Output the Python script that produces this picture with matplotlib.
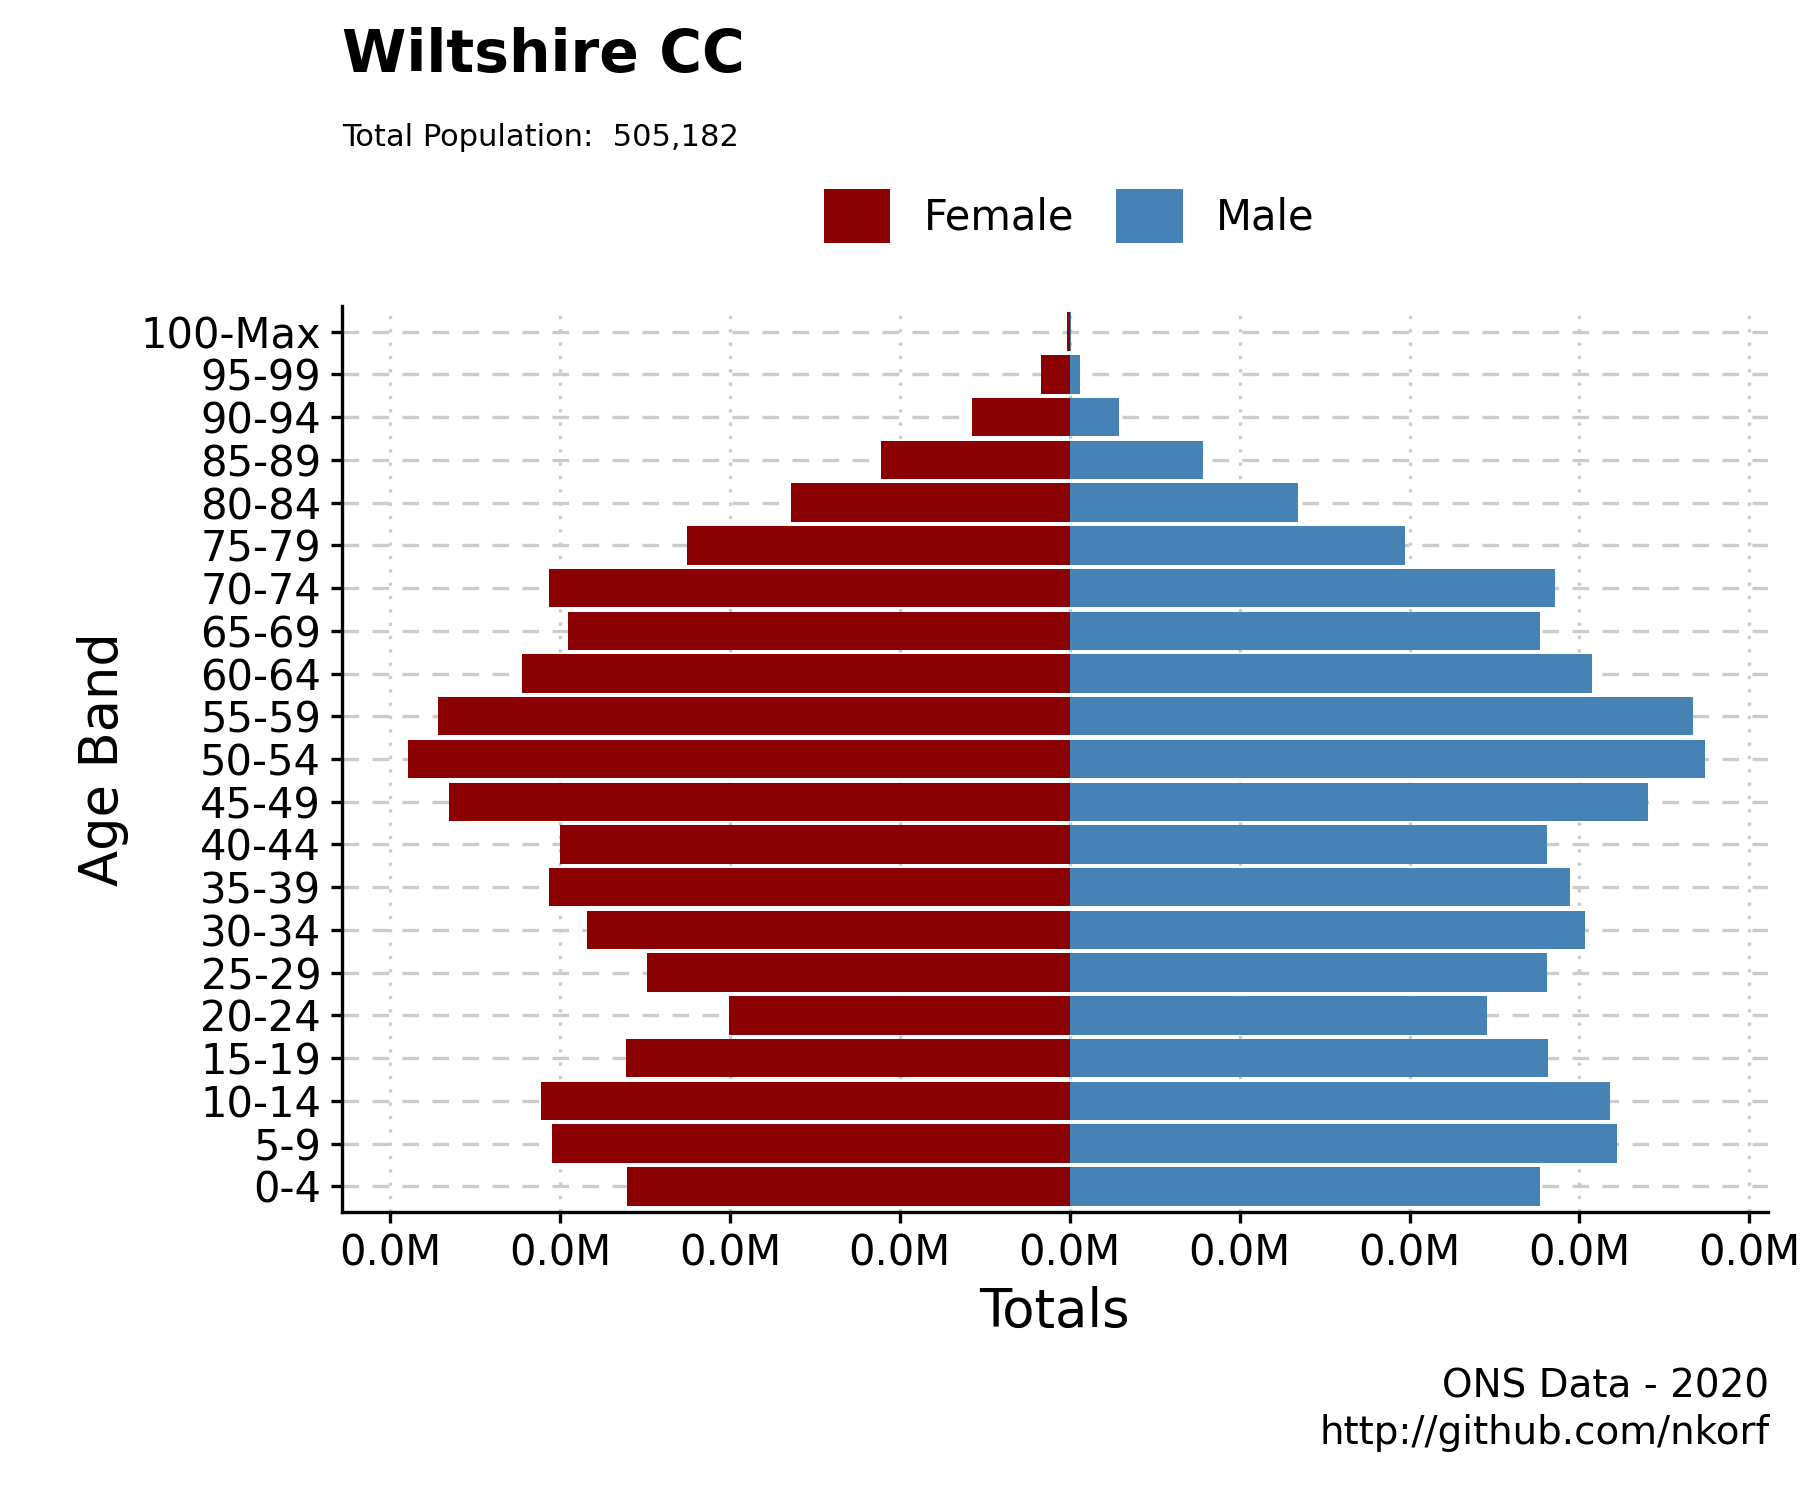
import matplotlib
matplotlib.use("Agg")
import matplotlib.pyplot as plt
import numpy as np

bands = ["0-4","5-9","10-14","15-19","20-24","25-29","30-34","35-39","40-44","45-49",
         "50-54","55-59","60-64","65-69","70-74","75-79","80-84","85-89","90-94","95-99","100-Max"]
female = [13030,15240,15570,13070,10030,12430,14220,15330,15000,18270,
          19490,18580,16110,14760,15330,11280,8210,5570,2870,840,70]
male = [13850,16110,15910,14080,12290,14050,15170,14730,14050,17020,
        18710,18340,15370,13850,14290,9860,6720,3920,1450,300,30]
ticks = np.arange(-20000, 20001, 5000)

plt.rcParams['font.family'] = ['DejaVu Sans']
fig = plt.figure(figsize=(9, 7.5), dpi=200)
ax = fig.add_axes([0.190, 0.192, 0.792, 0.604])
y = np.arange(len(bands))
ax.barh(y, [-f for f in female], height=0.9, color="#8B0000", label="Female", zorder=3)
ax.barh(y, male, height=0.9, color="#4682B4", label="Male", zorder=3)
ax.set_yticks(y)
ax.set_yticklabels(bands, fontsize=15)
ax.set_xticks(ticks)
ax.set_xticklabels(["0.0M"] * len(ticks), fontsize=15)
ax.set_xlim(-21420, 20540)
ax.set_ylim(-0.6, 20.6)
ax.xaxis.grid(True, linestyle=(0, (1, 3)), color="#cccccc", lw=1.2, zorder=0)
ax.yaxis.grid(True, linestyle=(0, (5, 4)), color="#cccccc", lw=1.2, zorder=0)
for s in ["top", "right"]:
    ax.spines[s].set_visible(False)
ax.spines["left"].set_linewidth(1.2)
ax.spines["bottom"].set_linewidth(1.2)
ax.tick_params(length=4, width=1.2)
ax.set_xlabel("Totals", fontsize=19)
ax.set_ylabel("Age Band", fontsize=19)

fig.text(0.190, 0.963, "Wiltshire CC", fontsize=21, fontweight="bold", va="center")
fig.text(0.190, 0.908, "Total Population:  505,182", fontsize=11, va="center")
ax.legend(loc="center", bbox_to_anchor=(0.594, 0.856), bbox_transform=fig.transFigure,
          ncol=2, frameon=False, fontsize=15, handlelength=1.6, handleheight=1.6,
          columnspacing=1.0, handletextpad=0.8)
fig.text(0.983, 0.06, "ONS Data - 2020\nhttp://github.com/nkorf", fontsize=14,
         ha="right", va="center", linespacing=1.3)
fig.savefig("out.png")
